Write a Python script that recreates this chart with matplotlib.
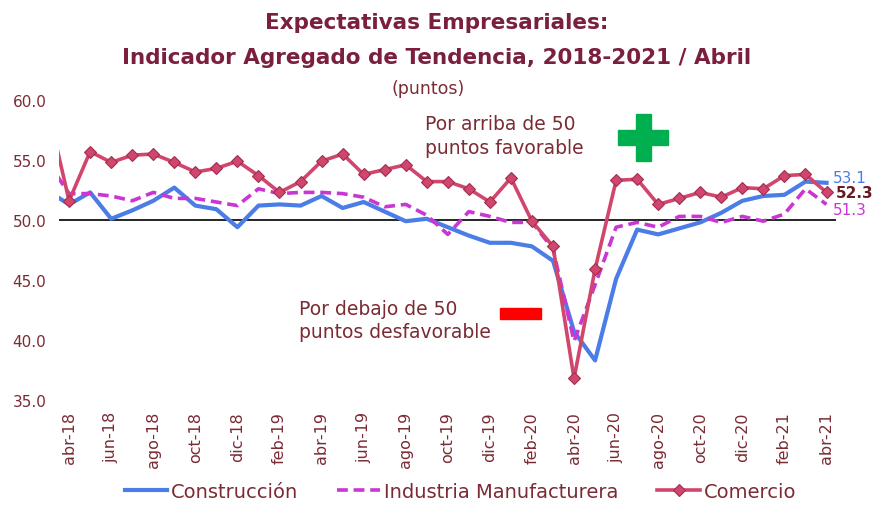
import numpy as np
import matplotlib
matplotlib.use("Agg")
import matplotlib.pyplot as plt
from matplotlib.patches import Rectangle

# monthly series, mar-18 .. abr-21 (first month sits just outside the visible range)
meses = ["mar-18", "abr-18", "may-18", "jun-18", "jul-18", "ago-18", "sep-18", "oct-18", "nov-18", "dic-18",
         "ene-19", "feb-19", "mar-19", "abr-19", "may-19", "jun-19", "jul-19", "ago-19", "sep-19", "oct-19",
         "nov-19", "dic-19", "ene-20", "feb-20", "mar-20", "abr-20", "may-20", "jun-20", "jul-20", "ago-20",
         "sep-20", "oct-20", "nov-20", "dic-20", "ene-21", "feb-21", "mar-21", "abr-21"]

construccion = [52.4, 51.3, 52.3, 50.1, 50.8, 51.6, 52.7, 51.2, 50.9, 49.4,
                51.2, 51.3, 51.2, 52.0, 51.0, 51.5, 50.7, 49.9, 50.1, 49.4,
                48.7, 48.1, 48.1, 47.8, 46.6, 40.7, 38.3, 45.1, 49.2, 48.8,
                49.3, 49.8, 50.6, 51.6, 52.0, 52.1, 53.2, 53.1]

industria = [54.8, 52.2, 52.2, 52.0, 51.6, 52.3, 51.8, 51.8, 51.5, 51.2,
             52.6, 52.2, 52.3, 52.3, 52.2, 51.9, 51.1, 51.3, 50.4, 48.8,
             50.7, 50.3, 49.8, 49.8, 47.6, 39.9, 44.6, 49.4, 49.8, 49.4,
             50.3, 50.3, 49.8, 50.3, 49.9, 50.5, 52.6, 51.3]

comercio = [59.2, 51.6, 55.7, 54.8, 55.4, 55.5, 54.8, 54.0, 54.3, 54.9,
            53.7, 52.3, 53.2, 54.9, 55.5, 53.8, 54.2, 54.6, 53.2, 53.2,
            52.6, 51.5, 53.5, 49.9, 47.8, 36.8, 45.9, 53.3, 53.4, 51.3,
            51.8, 52.3, 51.9, 52.7, 52.6, 53.7, 53.8, 52.3]

yticks = [35.0, 40.0, 45.0, 50.0, 55.0, 60.0]

azul = "#4A7DE6"
magenta = "#C936D3"
rosa = "#D1466C"
granate = "#7A1F3D"
texto = "#7B2B33"

plt.rcParams['font.family'] = ['DejaVu Sans']

fig = plt.figure(figsize=(8.74, 5.06), dpi=100)
ax = fig.add_axes([0.0675, 0.2075, 0.889, 0.5929])

x = np.arange(len(meses))
ax.axhline(50, color="black", lw=1.2, zorder=1)
ax.plot(x, construccion, color=azul, lw=3.0, label="Construcción", zorder=2)
ax.plot(x, industria, color=magenta, lw=2.6, dashes=(3, 1.6), label="Industria Manufacturera", zorder=3)
ax.plot(x, comercio, color=rosa, lw=2.6, marker="D", ms=6.5, mfc=rosa, mec="#9E2F50", mew=0.8,
        label="Comercio", zorder=4)

ax.set_xlim(0.52, 37.45)
ax.set_ylim(35, 60)
for s in ax.spines.values():
    s.set_visible(False)

ax.set_yticks(yticks)
ax.set_yticklabels([f"{v:.1f}" for v in yticks], color=texto, fontsize=11)
ax.set_xticks(x[1::2])
ax.set_xticklabels(meses[1::2], rotation=90, color=texto, fontsize=11.5)
ax.tick_params(length=0, pad=8)
ax.tick_params(axis="y", pad=9)

# end labels
ax.text(37.3, construccion[-1] + 0.45, f"{construccion[-1]:.1f}", color=azul, fontsize=11,
        va="center", ha="left", clip_on=False)
ax.text(37.45, comercio[-1] - 0.05, f"{comercio[-1]:.1f}", color="#6B1A22", fontsize=11, fontweight="bold",
        va="center", ha="left", clip_on=False)
ax.text(37.3, industria[-1] - 0.45, f"{industria[-1]:.1f}", color=magenta, fontsize=11,
        va="center", ha="left", clip_on=False)

# titles
fig.text(0.5, 0.955, "Expectativas Empresariales:", ha="center", va="center", color=granate,
         fontsize=15.5, fontweight="bold")
fig.text(0.5, 0.885, "Indicador Agregado de Tendencia, 2018-2021 / Abril", ha="center", va="center",
         color=granate, fontsize=15.5, fontweight="bold")
fig.text(0.49, 0.825, "(puntos)", ha="center", va="center", color=texto, fontsize=12.5)

# notes
fig.text(0.486, 0.73, "Por arriba de 50\npuntos favorable", ha="left", va="center", color=texto,
         fontsize=13.5, linespacing=1.3)
fig.text(0.342, 0.366, "Por debajo de 50\npuntos desfavorable", ha="left", va="center", color=texto,
         fontsize=13.5, linespacing=1.3)

# green plus, red minus
W, H = 874.0, 506.0
fig.patches.append(Rectangle((618 / W, 1 - 145.5 / H), 50 / W, 15 / H, transform=fig.transFigure,
                             color="#00B050", zorder=5))
fig.patches.append(Rectangle((635.5 / W, 1 - 162 / H), 15 / W, 47 / H, transform=fig.transFigure,
                             color="#00B050", zorder=5))
fig.patches.append(Rectangle((500 / W, 1 - 320 / H), 41 / W, 11 / H, transform=fig.transFigure,
                             color="#FF0000", zorder=5))

leg = fig.legend(loc="center", bbox_to_anchor=(0.527, 0.027), ncol=3, frameon=False, fontsize=14,
                 handlelength=2.2, handletextpad=0.2, columnspacing=2.0)
for t in leg.get_texts():
    t.set_color(texto)

fig.savefig("out.png", dpi=100)
